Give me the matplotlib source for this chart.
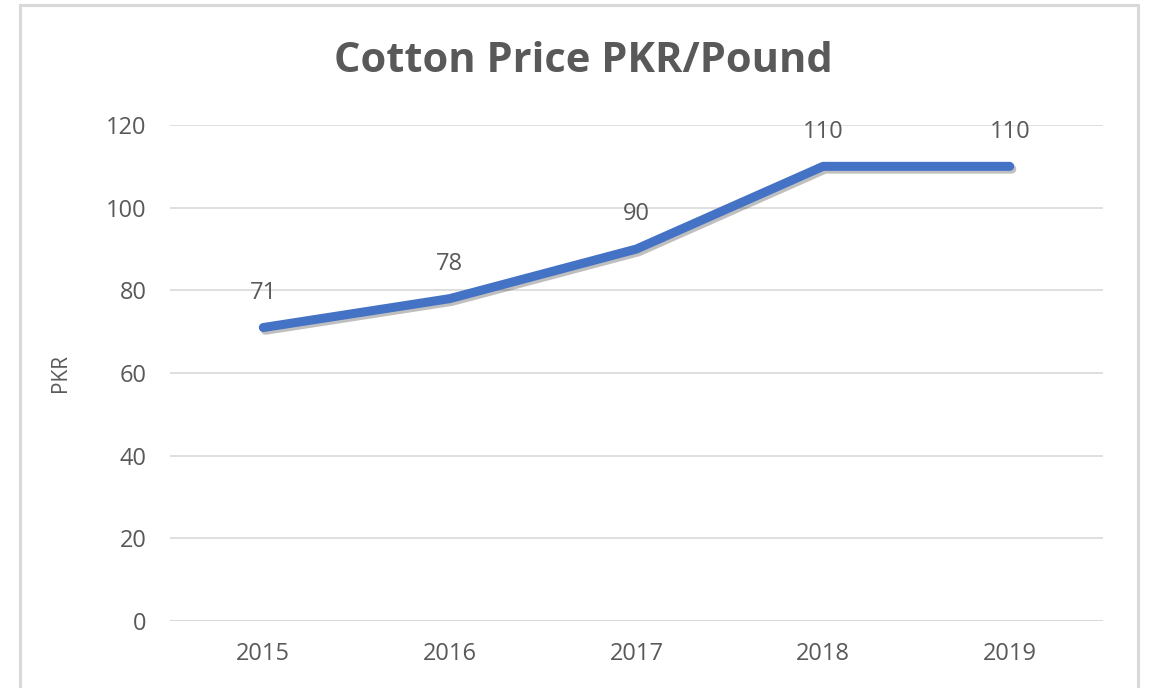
import matplotlib
matplotlib.use("Agg")
import matplotlib.pyplot as plt
from matplotlib.patches import Rectangle
import matplotlib.patheffects as pe

years = ["2015", "2016", "2017", "2018", "2019"]
prices = [71, 78, 90, 110, 110]
yticks = [0, 20, 40, 60, 80, 100, 120]

W, H = 1150, 688
fig = plt.figure(figsize=(W / 100, H / 100), dpi=100)
plt.rcParams['font.family'] = ['Open Sans', 'DejaVu Sans']

TXT = '#595959'
GRID = '#D9D9D9'

# chart border
fig.patches.append(Rectangle((20 / W, -0.1), (1138 - 20) / W, 1 - 5 / H + 0.1,
                             transform=fig.transFigure, fill=False,
                             edgecolor=GRID, linewidth=2.2))

ax = fig.add_axes([170 / W, 1 - 621 / H, (1103 - 170) / W, (621 - 125) / H])
x = list(range(len(years)))
ax.plot(x, prices, color='#4472C4', linewidth=6.5, solid_capstyle='round',
        solid_joinstyle='round',
        path_effects=[pe.SimpleLineShadow(offset=(1.5, -2), alpha=0.25, shadow_color='#000000'),
                      pe.Normal()], zorder=3)
for xi, v in zip(x, prices):
    ax.annotate(str(v), (xi, v), xytext=(0, 25), textcoords='offset points',
                ha='center', va='center', fontsize=17, color=TXT, zorder=4)

ax.set_xlim(-0.5, len(years) - 0.5)
ax.set_ylim(0, 120)
ax.set_yticks(yticks)
ax.set_xticks(x)
ax.set_xticklabels(years)
for s in ax.spines.values():
    s.set_visible(False)
ax.grid(axis='y', color=GRID, linewidth=1.2)
ax.set_axisbelow(True)
ax.tick_params(axis='both', length=0, labelsize=17, labelcolor=TXT)
ax.tick_params(axis='y', pad=17)
ax.tick_params(axis='x', pad=15)
ax.axhline(0, color=GRID, linewidth=2, zorder=1)
ax.set_ylabel('PKR', fontsize=15, color=TXT)
ax.yaxis.set_label_coords(-(170 - 71) / (1103 - 170), 0.5)

fig.text(583.5 / W, 1 - 61 / H, 'Cotton Price PKR/Pound', ha='center', va='center',
         fontsize=30, fontweight='bold', color=TXT)

fig.savefig('out.png', dpi=100)
